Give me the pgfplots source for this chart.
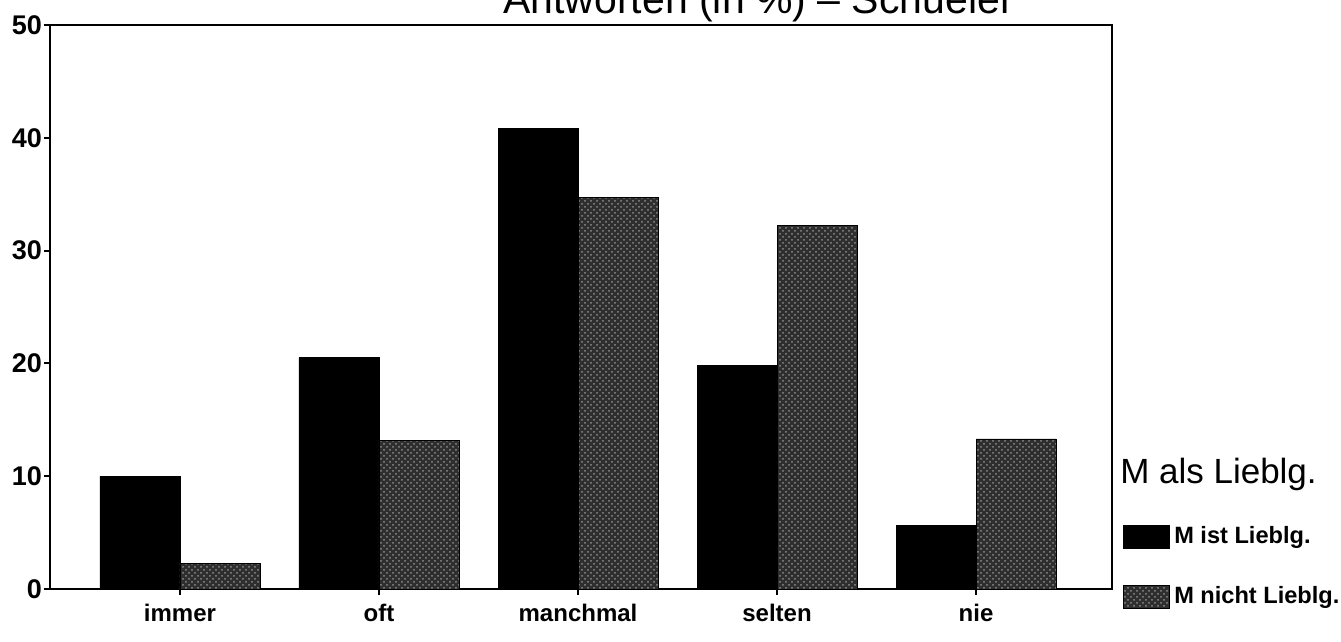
\documentclass[border=0pt]{standalone}
\usepackage{fontspec}
\setmainfont{Liberation Sans}
\usepackage{pgfplots}
\pgfplotsset{compat=1.18}
\usetikzlibrary{patterns}
\begin{document}
\begin{tikzpicture}
\useasboundingbox (0,0) rectangle (670.5pt,-321pt);
\clip (0,0) rectangle (670.5pt,-321pt);
\node[anchor=base west, inner sep=0pt, font=\fontsize{20.5}{24}\selectfont] at (251.5pt,-7pt) {Antworten (in \%) -- Schueler};
\begin{axis}[
  at={(25pt,-294.5pt)}, anchor=south west,
  scale only axis, width=531pt, height=282pt,
  xmin=-0.653, xmax=4.683, ymin=0, ymax=50,
  ybar=0pt, bar width=40pt,
  xtick={0,1,2,3,4},
  xticklabels={immer,oft,manchmal,selten,nie},
  ytick={0,10,20,30,40,50},
  xtick pos=left, ytick pos=left,
  tick align=outside, major tick length=3pt,
  every tick/.style={black, line width=1pt},
  axis line style={line width=1.1pt},
  /pgf/number format/assume math mode=true,
  xticklabel style={font=\bfseries\fontsize{12}{14}\selectfont, yshift=-1pt},
  yticklabel style={font=\bfseries\fontsize{13.5}{15}\selectfont, xshift=2.5pt},
  legend style={draw=none, fill=none, at={(1.0104,0.24)}, anchor=north west,
    row sep=16pt, inner sep=0pt, font=\bfseries\fontsize{11.8}{13}\selectfont},
  legend cell align=left,
  legend image code/.code={\draw[#1] (0pt,-5.75pt) rectangle (23pt,5.75pt);},
  /tikz/every even column/.append style={column sep=3.5pt},
]
\addlegendimage{empty legend}
\addlegendentry{\hspace*{-27pt}\mdseries\fontsize{17.5}{20}\selectfont M als Lieblg.}
\addplot[fill=black, draw=black] coordinates {(0,10) (1,20.5) (2,40.8) (3,19.8) (4,5.6)};
\addlegendentry{M ist Lieblg.}
\addplot[fill=black!82, draw=black, postaction={pattern=crosshatch dots, pattern color=black!45}] coordinates {(0,2.3) (1,13.2) (2,34.7) (3,32.2) (4,13.3)};
\addlegendentry{M nicht Lieblg.}
\end{axis}
\end{tikzpicture}
\end{document}
